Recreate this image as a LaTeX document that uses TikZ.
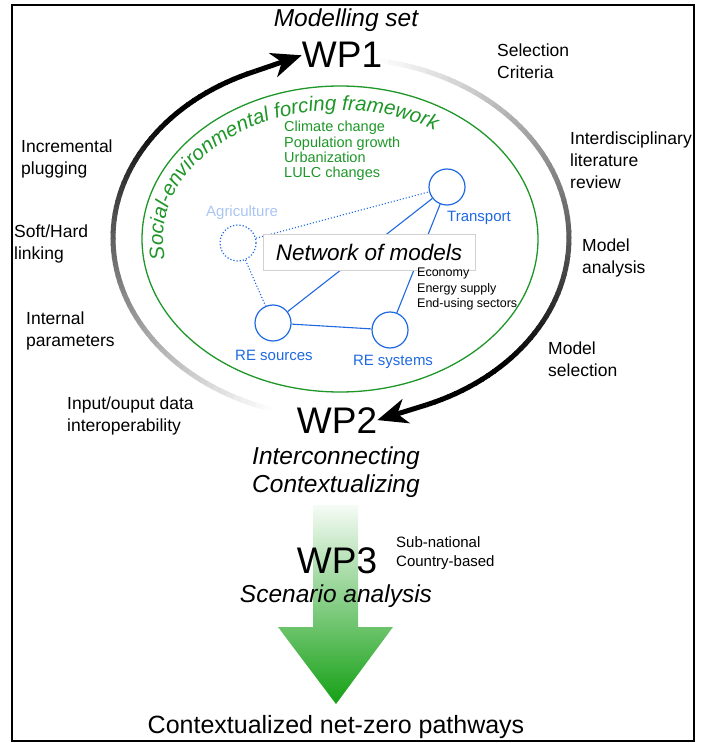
\documentclass[tikz,border=0pt]{standalone}
\usepackage{fontspec}
\setmainfont{Liberation Sans}
\usetikzlibrary{arrows.meta, decorations.text}

\definecolor{modelblue}{RGB}{30,105,225}
\definecolor{agriblue}{RGB}{170,198,242}
\definecolor{framegreen}{RGB}{30,150,40}
\definecolor{arrowgreen}{RGB}{20,160,20}

\newcommand{\setfs}[2]{\fontsize{#1}{#2}\selectfont}

\begin{document}
\begin{tikzpicture}[x=1pt, y=-1pt,
    sidenote/.style={anchor=west, align=left, inner sep=0pt, font=\setfs{17.5}{22}},
    wp/.style={anchor=base, inner sep=0pt, font=\setfs{37}{40}},
    itext/.style={inner sep=0pt, font=\itshape\setfs{24.5}{28}},
    model/.style={circle, draw=modelblue, line width=1.2pt, minimum size=36pt, inner sep=0pt},
    modeltext/.style={anchor=base, inner sep=0pt, text=modelblue, font=\setfs{15}{18}},
    link/.style={draw=modelblue, line width=1.1pt},
    looparc/.style={line width=5pt},
    bighead/.style={-{Stealth[length=30pt, width=25pt, inset=9pt]}, line width=5pt}]
    \useasboundingbox (0,0) rectangle (701,743);
    \draw[line width=1.5pt] (12,5) rectangle (694,741);

    % Work packages
    \node[itext, anchor=base] (modset) at (346,27) {Modelling set};
    \node[wp] (wp1) at (342,68) {WP1};
    \node[wp] (wp2) at (337,433) {WP2};
    \node[itext, align=center] (context) at (336,472) {Interconnecting\\Contextualizing};

    % loop WP1 <-> WP2, fading arcs
    \foreach \a in {112,114,...,250} {
        \pgfmathtruncatemacro{\shade}{min(100,max(0,100*(252-\a)/115))}
        \draw[looparc, black!\shade] ({341+228*cos(\a)},{238-180*sin(\a)}) -- ({341+228*cos(\a+2.4)},{238-180*sin(\a+2.4)});
      }
    \foreach \a in {-68,-66,...,78} {
        \pgfmathtruncatemacro{\shade}{min(100,max(0,100*(80-\a)/125))}
        \draw[looparc, black!\shade] ({341+228*cos(\a)},{238-180*sin(\a)}) -- ({341+228*cos(\a+2.4)},{238-180*sin(\a+2.4)});
      }
    \coordinate (loopL) at ({341+228*cos(112)},{238-180*sin(112)});
    \coordinate (loopR) at ({341+228*cos(-68)},{238-180*sin(-68)});
    \draw[bighead] (loopL) -- (wp1.west);
    \draw[bighead] (loopR) -- (wp2.east);

    % notes round the loop
    \node[sidenote] (crit) at (497,61) {Selection\\Criteria};
    \node[sidenote] (review) at (570,160) {Interdisciplinary\\literature\\review};
    \node[sidenote] (analysis) at (582,258) {Model\\analysis};
    \node[sidenote] (select) at (548,359) {Model\\selection};
    \node[sidenote] (plug) at (21,159) {Incremental\\plugging};
    \node[sidenote] (linking) at (14,244) {Soft/Hard\\linking};
    \node[sidenote] (params) at (26,331) {Internal\\parameters};
    \node[sidenote] (interop) at (67,416) {Input/ouput data\\interoperability};

    % Social-environmental forcing framework
    \draw[framegreen, line width=1.3pt] (340,239) ellipse [x radius=198, y radius=153];
    \path[decorate, decoration={text along path, text align=left, text color=framegreen,
        text={|\itshape\setfs{20.5}{20.5}|Social-environmental forcing framework}}]
      plot[domain=189:40, samples=60] ({340+177*cos(\x)},{239-129*sin(\x)});
    \node[anchor=west, align=left, inner sep=0pt, text=framegreen, font=\setfs{14.5}{15.3}] (drivers) at (284,151)
      {Climate change\\Population growth\\Urbanization\\LULC changes};

    % network of models
    \node[model, dotted] (agri) at (238,243) {};
    \node[model] (transport) at (447,187) {};
    \node[model] (resrc) at (273,323) {};
    \node[model] (resys) at (390,330) {};
    \draw[link, dotted] (agri) -- (transport);
    \draw[link, dotted] (agri) -- (resrc);
    \draw[link] (transport) -- (resrc);
    \draw[link] (transport) -- (resys);
    \draw[link] (resrc) -- (resys);
    \node[draw=black!18, fill=white, minimum width=212pt, minimum height=36pt, inner sep=0pt,
      font=\itshape\setfs{22.5}{26}] (network) at (369,252) {Network of models};
    \node[modeltext, text=agriblue] (agrilbl) at (242,217) {Agriculture};
    \node[modeltext] (translbl) at (479,222) {Transport};
    \node[modeltext] (resrclbl) at (274,360) {RE sources};
    \node[modeltext] (resyslbl) at (393,365) {RE systems};
    \node[anchor=west, align=left, inner sep=0pt, font=\setfs{12.5}{15.7}] (sectors) at (417,289)
      {Economy\\Energy supply\\End-using sectors};

    % WP3 arrow
    \shade[top color=arrowgreen!4, bottom color=arrowgreen] (313,505) -- (358,505) -- (358,627) -- (393,627)
      -- (336,704) -- (278,627) -- (313,627) -- cycle;
    \node[wp] (wp3) at (337,573) {WP3};
    \node[itext, anchor=base] (scen) at (336,602) {Scenario analysis};
    \node[anchor=west, align=left, inner sep=0pt, font=\setfs{15}{19}] (scale) at (396,553) {Sub-national\\Country-based};
    \node[anchor=base, inner sep=0pt, font=\setfs{25}{30}] (pathways) at (336,733) {Contextualized net-zero pathways};
  \end{tikzpicture}
\end{document}
